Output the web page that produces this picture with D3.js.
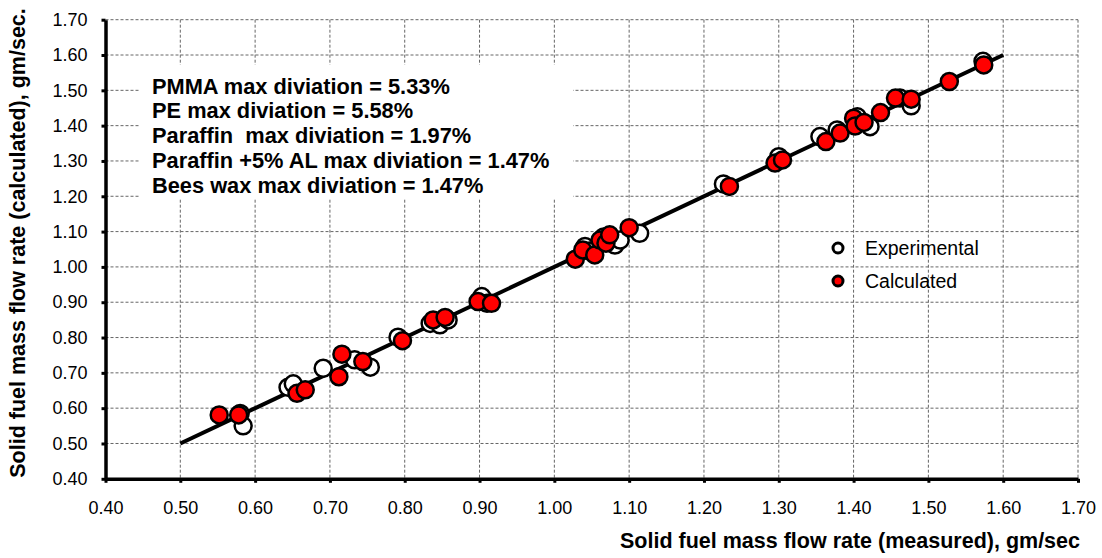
<!DOCTYPE html>
<html>
<head>
<meta charset="utf-8">
<script src="https://cdn.jsdelivr.net/npm/d3@7"></script>
<style>
  body { margin: 0; background: #fff; }
  svg { font-family: "Liberation Sans", Arial, sans-serif; }
  .grid line { stroke: #666; stroke-width: 1; stroke-dasharray: 3,2; }
  .axis path, .axis line { stroke: #000; }
  .axis text { font-size: 18px; fill: #000; }
</style>
</head>
<body>
<svg width="1102" height="558"></svg>
<script>
let width = 1102,
    height = 558,
    margin = ({ top: 19.7, right: 24, bottom: 79.2, left: 105.5 });

// experimental points [measured, calculated]
let experimental = [
  [0.580, 0.585], [0.584, 0.550], [0.644, 0.659], [0.651, 0.669], [0.691, 0.713],
  [0.733, 0.737], [0.754, 0.716], [0.791, 0.801], [0.834, 0.840], [0.847, 0.836],
  [0.858, 0.850], [0.903, 0.916], [0.910, 0.897], [1.041, 1.058], [1.047, 1.045],
  [1.081, 1.062], [1.088, 1.076], [1.066, 1.085], [1.114, 1.095], [1.226, 1.235],
  [1.300, 1.312], [1.355, 1.369], [1.378, 1.388], [1.405, 1.425], [1.422, 1.397],
  [1.462, 1.478], [1.477, 1.456], [1.573, 1.582]
];

let calculated = [
  [0.552, 0.581], [0.578, 0.581], [0.656, 0.642], [0.667, 0.652], [0.712, 0.689],
  [0.716, 0.753], [0.744, 0.732], [0.797, 0.791], [0.838, 0.850], [0.854, 0.857],
  [0.898, 0.902], [0.916, 0.897], [1.028, 1.022], [1.038, 1.048], [1.054, 1.034],
  [1.061, 1.076], [1.069, 1.067], [1.074, 1.091], [1.100, 1.111], [1.234, 1.228],
  [1.295, 1.294], [1.305, 1.303], [1.363, 1.355], [1.382, 1.379], [1.400, 1.421],
  [1.402, 1.399], [1.414, 1.409], [1.436, 1.437], [1.456, 1.478], [1.477, 1.475],
  [1.528, 1.525], [1.574, 1.572]
];

let fitLine = [[0.5, 0.5], [1.6, 1.6]];

let ticks = d3.range(0.4, 1.7001, 0.1).map(d => +d.toFixed(2));

let notes = [
  "PMMA max diviation = 5.33%",
  "PE max diviation = 5.58%",
  "Paraffin  max diviation = 1.97%",
  "Paraffin +5% AL max diviation = 1.47%",
  "Bees wax max diviation = 1.47%"
];

let legendItems = [
  { name: "Experimental", fill: "#fff" },
  { name: "Calculated", fill: "#ff0000" }
];

const svg = d3.select("svg");

xScale = d3.scaleLinear()
  .domain([0.4, 1.7])
  .range([margin.left, width - margin.right]);

yScale = d3.scaleLinear()
  .domain([0.4, 1.7])
  .range([height - margin.bottom, margin.top]);

// grid
svg.append("g").attr("class", "grid")
  .selectAll("line.v").data(ticks.slice(1)).join("line")
  .attr("x1", d => xScale(d)).attr("x2", d => xScale(d))
  .attr("y1", yScale(1.7)).attr("y2", yScale(0.4));

svg.append("g").attr("class", "grid")
  .selectAll("line.h").data(ticks.slice(1)).join("line")
  .attr("x1", xScale(0.4)).attr("x2", xScale(1.7))
  .attr("y1", d => yScale(d)).attr("y2", d => yScale(d));

// white box behind the notes
svg.append("rect")
  .attr("x", 140).attr("y", 65)
  .attr("width", 433).attr("height", 133)
  .attr("fill", "#fff");

// axes
xAxis = d3.axisBottom(xScale).tickValues(ticks).tickFormat(d3.format(".2f"))
  .tickSizeInner(4).tickSizeOuter(0).tickPadding(18);
yAxis = d3.axisLeft(yScale).tickValues(ticks).tickFormat(d3.format(".2f"))
  .tickSizeInner(4).tickSizeOuter(0).tickPadding(14);

svg.append("g").attr("class", "axis")
  .attr("transform", `translate(0,${height - margin.bottom})`)
  .call(xAxis)
  .call(g => g.select(".domain").attr("stroke-width", 3.5))
  .call(g => g.selectAll(".tick line").attr("stroke-width", 3));

svg.append("g").attr("class", "axis")
  .attr("transform", `translate(${margin.left},0)`)
  .call(yAxis)
  .call(g => g.select(".domain").attr("stroke-width", 3.5))
  .call(g => g.selectAll(".tick line").attr("stroke-width", 3));

// fit line
svg.append("path")
  .datum(fitLine)
  .attr("d", d3.line().x(d => xScale(d[0])).y(d => yScale(d[1])))
  .attr("stroke", "#000").attr("stroke-width", 4).attr("fill", "none");

// points
svg.append("g").selectAll("circle").data(experimental).join("circle")
  .attr("cx", d => xScale(d[0])).attr("cy", d => yScale(d[1]))
  .attr("r", 8.5).attr("fill", "#fff").attr("stroke", "#000").attr("stroke-width", 2.5);

svg.append("g").selectAll("circle").data(calculated).join("circle")
  .attr("cx", d => xScale(d[0])).attr("cy", d => yScale(d[1]))
  .attr("r", 8.5).attr("fill", "#ff0000").attr("stroke", "#000").attr("stroke-width", 2.5);

// notes
svg.append("g").selectAll("text").data(notes).join("text")
  .attr("x", 152).attr("y", (d, i) => 93.5 + i * 24.9)
  .attr("font-size", 21.8).attr("font-weight", "bold")
  .style("white-space", "pre")
  .text(d => d);

// legend
const legend = svg.append("g");
legend.selectAll("circle").data(legendItems).join("circle")
  .attr("cx", 838).attr("cy", (d, i) => 248 + i * 33)
  .attr("r", 5).attr("fill", d => d.fill).attr("stroke", "#000").attr("stroke-width", 3);
legend.selectAll("text").data(legendItems).join("text")
  .attr("x", 865).attr("y", (d, i) => 254.5 + i * 33)
  .attr("font-size", 19.5)
  .text(d => d.name);

// axis titles
svg.append("text")
  .attr("x", 1080).attr("y", 548)
  .attr("text-anchor", "end")
  .attr("font-size", 21.5).attr("font-weight", "bold")
  .text("Solid fuel mass flow rate (measured), gm/sec");

svg.append("text")
  .attr("transform", "translate(25,243) rotate(-90)")
  .attr("text-anchor", "middle")
  .attr("font-size", 21.5).attr("font-weight", "bold")
  .text("Solid fuel mass flow rate (calculated), gm/sec.");
</script>
</body>
</html>
